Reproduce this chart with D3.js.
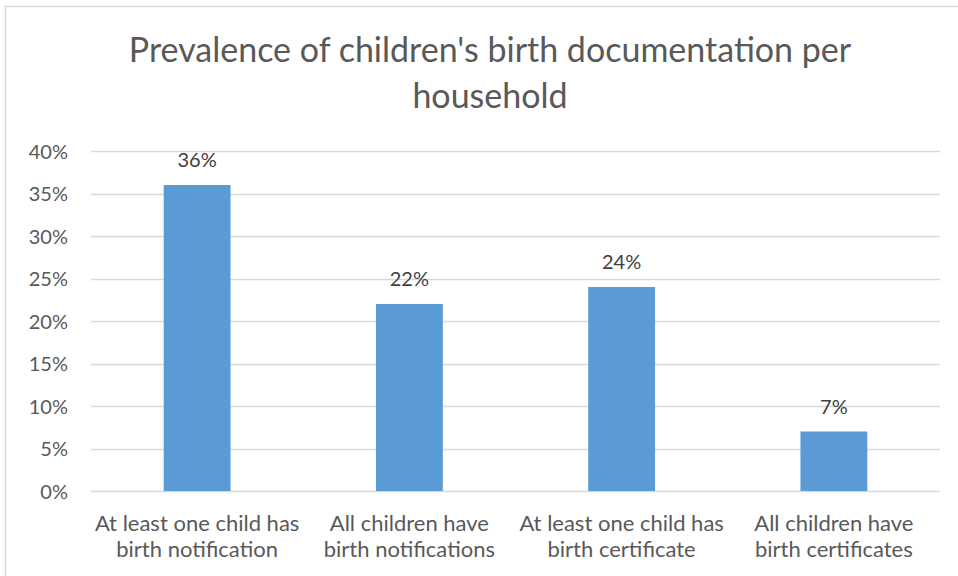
<!DOCTYPE html>
<html lang="en">
<head>
<meta charset="utf-8">
<title>birth documentation</title>
<script src="https://d3js.org/d3.v7.min.js"></script>
<style type="text/css">
	body { margin: 0; background: #fff; }
	text { font-family: Lato, "Open Sans", sans-serif; fill: #595959; }
	.axis text { font-size: 20px; }
	.cat text { font-size: 22px; }
	.title { font-size: 34px; text-anchor: middle; }
	.label { font-size: 20px; text-anchor: middle; fill: #404040; }
</style>
</head>
<body>
<div id="chart"></div>
<script type="text/javascript">

var categories = [
	["At least one child has", "birth notification"],
	["All children have", "birth notifications"],
	["At least one child has", "birth certificate"],
	["All children have", "birth certificates"]
];
var values = [36, 22, 24, 7];
var yTicks = [0, 5, 10, 15, 20, 25, 30, 35, 40];

var w = 958, h = 576;
var plotLeft = 91, plotRight = 940, plotTop = 151, plotBottom = 491;

var svg = d3.select("#chart").append("svg")
	.attr("width", w)
	.attr("height", h);

// chart frame
svg.append("rect")
	.attr("x", 5.5).attr("y", 6.5)
	.attr("width", 970).attr("height", 600)
	.attr("fill", "none")
	.attr("stroke", "#d9d9d9")
	.attr("stroke-width", 1.5);

var xScale = d3.scaleBand()
	.domain(d3.range(categories.length))
	.range([plotLeft, plotRight]);

var yScale = d3.scaleLinear()
	.domain([0, 40])
	.range([plotBottom, plotTop]);

var barW = xScale.bandwidth() * 0.315;

// gridlines
svg.append("g")
	.selectAll("line")
	.data(yTicks)
	.enter()
	.append("line")
	.attr("x1", plotLeft).attr("x2", plotRight)
	.attr("y1", function(d) { return Math.round(yScale(d)) + 0.5; })
	.attr("y2", function(d) { return Math.round(yScale(d)) + 0.5; })
	.attr("stroke", "#d9d9d9")
	.attr("stroke-width", 1.3);

// y axis labels
var yAxis = d3.axisLeft(yScale)
	.tickValues(yTicks)
	.tickSize(0)
	.tickPadding(0)
	.tickFormat(function(d) { return d + "%"; });

svg.append("g")
	.attr("class", "axis")
	.attr("transform", "translate(68,1)")
	.call(yAxis)
	.call(function(g) { g.select(".domain").remove(); })
	.selectAll("text")
	.attr("font-family", null)
	.attr("font-size", null)
	.attr("fill", null);

// bars
svg.selectAll("rect.bar")
	.data(values)
	.enter()
	.append("rect")
	.attr("class", "bar")
	.attr("x", function(d, i) { return xScale(i) + (xScale.bandwidth() - barW) / 2; })
	.attr("y", function(d) { return yScale(d); })
	.attr("width", barW)
	.attr("height", function(d) { return plotBottom - yScale(d); })
	.attr("fill", "#5b9bd5");

// value labels
svg.selectAll("text.label")
	.data(values)
	.enter()
	.append("text")
	.attr("class", "label")
	.attr("x", function(d, i) { return xScale(i) + xScale.bandwidth() / 2; })
	.attr("y", function(d) { return yScale(d) - 18; })
	.text(function(d) { return d + "%"; });

// category labels
var cat = svg.append("g").attr("class", "cat");
categories.forEach(function(lines, i) {
	var cx = xScale(i) + xScale.bandwidth() / 2;
	var t = cat.append("text")
		.attr("text-anchor", "middle")
		.attr("x", cx)
		.attr("y", 531);
	lines.forEach(function(s, j) {
		t.append("tspan")
			.attr("x", cx)
			.attr("dy", j === 0 ? 0 : 26)
			.text(s);
	});
});

// title
svg.append("text")
	.attr("class", "title")
	.attr("x", 490).attr("y", 62)
	.text("Prevalence of children's birth documentation per");
svg.append("text")
	.attr("class", "title")
	.attr("x", 490).attr("y", 108)
	.text("household");

</script>
</body>
</html>
